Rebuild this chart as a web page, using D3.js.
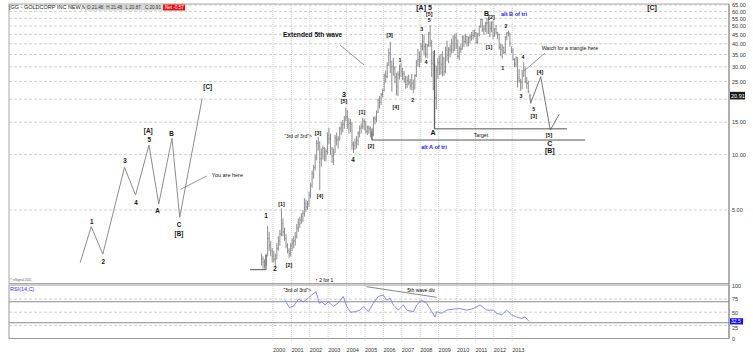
<!DOCTYPE html>
<html>
<head>
<meta charset="utf-8">
<script src="https://cdn.jsdelivr.net/npm/d3@7"></script>
<style>
  body { margin: 0; background: #fff; }
  svg { display: block; font-family: "Liberation Sans", Arial, sans-serif; }
</style>
</head>
<body>
<div id="chart"></div>
<script>
// monthly bars, first one is May 1999
const startYear = 1999, startMonth = 4;

const highs = [
  2.9, 2.8, 2.7, 2.9, 4.1, 3.8, 3.4, 3.1,
  3.0, 2.9, 3.3, 3.6, 3.9, 5.1, 4.5, 4.0, 3.7, 3.3, 3.1, 3.3,
  3.5, 3.6, 3.8, 4.2, 4.5, 4.6, 4.8, 5.0, 5.8, 5.7, 5.6, 6.3,
  7.0, 8.2, 8.8, 10.0, 12.0, 12.5, 11.8, 10.8, 11.2, 11.0, 10.8, 13.2,
  14.0, 13.0, 11.0, 10.8, 12.8, 13.2, 12.6, 14.2, 15.0, 15.4, 16.2, 18.0,
  17.5, 15.8, 15.6, 15.0, 11.8, 12.2, 12.6, 13.4, 14.4, 14.8, 15.8, 15.6,
  15.2, 14.4, 14.4, 14.2, 13.4, 16.0, 16.2, 17.4, 20.2, 20.8, 21.6, 22.8,
  27.5, 28.6, 31.8, 37.8, 41.0, 32.4, 33.6, 30.2, 27.8, 28.4, 30.8, 31.5,
  29.6, 28.4, 26.8, 26.6, 27.2, 25.8, 27.4, 25.6, 27.4, 32.6, 37.6, 36.4,
  40.4, 45.2, 44.6, 40.2, 40.0, 46.4, 50.6, 42.0, 36.6, 31.2, 30.4, 33.6,
  34.6, 35.2, 36.4, 34.0, 38.6, 41.6, 38.4, 39.6, 42.6, 44.6, 45.2, 45.8,
  42.2, 38.8, 39.8, 44.4, 44.6, 45.4, 44.2, 43.8, 44.6, 46.4, 47.6, 47.8,
  46.4, 45.8, 50.2, 54.6, 54.8, 50.4, 52.6, 55.4, 56.0, 53.0, 52.8, 53.6,
  48.8, 50.6, 46.4, 45.4, 40.0, 39.8, 38.6, 44.0, 46.4, 47.2, 46.0, 38.8,
  37.8, 33.4, 34.2, 33.8, 29.2, 25.8, 28.8, 31.8, 29.8, 26.4, 25.2, 21.48
];
const lows = [
  2.5, 2.4, 2.4, 2.5, 2.8, 3.0, 2.8, 2.6,
  2.6, 2.45, 2.7, 3.0, 3.2, 3.6, 3.6, 3.4, 3.1, 2.9, 2.74, 2.8,
  3.0, 3.1, 3.2, 3.5, 3.8, 4.0, 4.2, 4.3, 4.6, 4.9, 5.0, 5.2,
  5.8, 6.6, 7.4, 8.2, 9.3, 10.5, 6.4, 8.6, 9.4, 9.2, 9.2, 10.0,
  11.4, 10.0, 9.0, 8.8, 10.2, 11.2, 10.8, 11.9, 12.8, 13.2, 13.8, 15.2,
  13.8, 13.0, 13.2, 10.6, 10.2, 10.6, 10.8, 11.2, 12.4, 13.0, 13.8, 13.6,
  13.0, 12.8, 13.0, 12.4, 12.0, 12.6, 14.6, 15.0, 16.8, 17.8, 18.6, 20.4,
  22.0, 24.6, 26.0, 30.4, 27.8, 22.0, 26.8, 24.4, 21.0, 20.8, 25.6, 26.4,
  25.4, 24.6, 22.8, 23.0, 23.8, 22.6, 22.4, 21.6, 22.6, 26.4, 30.0, 29.8,
  31.6, 36.8, 34.6, 33.6, 33.5, 38.6, 38.4, 26.4, 22.4, 13.8, 17.6, 25.8,
  27.0, 27.2, 26.6, 26.8, 27.6, 32.2, 31.4, 33.8, 35.4, 35.8, 36.6, 37.4,
  33.2, 32.6, 35.8, 37.2, 38.4, 40.2, 38.6, 38.8, 40.4, 41.6, 42.2, 43.4,
  40.2, 39.8, 43.8, 48.8, 46.4, 44.6, 46.4, 45.2, 45.4, 43.4, 46.2, 42.2,
  43.6, 45.2, 42.4, 37.2, 34.2, 33.2, 35.2, 35.4, 41.8, 43.8, 38.6, 35.6,
  32.6, 29.8, 30.0, 23.2, 24.6, 22.2, 22.6, 26.4, 24.4, 22.8, 21.6, 20.87
];
const closes = [
  2.7, 2.6, 2.5, 2.8, 3.5, 3.2, 3.0, 2.8,
  2.7, 2.7, 3.1, 3.4, 3.7, 4.2, 3.8, 3.5, 3.2, 3.0, 2.9, 3.2,
  3.3, 3.4, 3.6, 4.0, 4.2, 4.4, 4.6, 4.8, 5.4, 5.2, 5.4, 6.0,
  6.8, 7.9, 8.5, 9.6, 11.5, 11.6, 9.5, 10.2, 10.8, 9.8, 10.4, 12.7,
  12.2, 10.8, 9.8, 10.2, 12.3, 12.0, 12.2, 13.8, 14.0, 14.6, 15.8, 16.0,
  14.6, 14.8, 14.6, 11.4, 11.2, 11.6, 11.9, 13.1, 13.9, 14.2, 15.2, 15.0,
  13.4, 14.0, 13.8, 12.8, 12.9, 15.8, 15.6, 17.0, 19.8, 19.2, 21.2, 22.3,
  26.8, 26.6, 30.6, 35.6, 32.0, 30.0, 29.4, 26.4, 23.6, 27.2, 30.2, 28.4,
  27.6, 25.8, 24.0, 25.2, 24.6, 23.6, 24.4, 23.2, 26.8, 32.0, 32.8, 34.0,
  38.8, 41.2, 38.6, 35.2, 39.2, 45.8, 40.6, 31.4, 30.8, 20.4, 28.6, 31.5,
  29.4, 31.0, 33.4, 28.2, 37.0, 34.8, 37.4, 37.0, 40.4, 37.0, 43.2, 39.4,
  34.2, 37.6, 37.4, 43.4, 41.2, 43.8, 40.4, 43.2, 43.6, 44.6, 44.4, 46.0,
  40.6, 45.2, 49.8, 54.2, 47.8, 48.2, 51.6, 52.0, 45.6, 48.6, 52.4, 44.2,
  48.2, 46.0, 45.0, 38.2, 37.2, 38.4, 36.0, 43.4, 45.8, 45.6, 40.4, 36.7,
  32.8, 31.0, 33.6, 26.0, 25.2, 24.7, 27.0, 28.6, 25.0, 24.4, 22.0, 20.91
];

const yearTicks = d3.range(2000, 2014);
const priceTicks = [5, 10, 15, 20, 25, 30, 35, 40, 45, 50, 55, 60, 65];
const rsiTicks = [0, 25, 50, 75, 100];
const rsiLevels = [30, 70];

// RSI(14,C)
const rsiDates = [2000.65, 2000.89, 2001.10, 2001.38, 2001.65, 2001.92, 2002.10, 2002.34, 2002.52, 2002.65,
  2002.83, 2003.01, 2003.28, 2003.55, 2003.82, 2004.01, 2004.22, 2004.46, 2004.73, 2004.91,
  2005.18, 2005.45, 2005.72, 2005.99, 2006.18, 2006.36, 2006.54, 2006.81, 2007.08, 2007.27,
  2007.63, 2007.81, 2008.08, 2008.35, 2008.63, 2008.80, 2008.90, 2009.17, 2009.44, 2009.80,
  2010.16, 2010.53, 2010.89, 2011.25, 2011.61, 2011.97, 2012.16, 2012.43, 2012.70, 2012.97,
  2013.24, 2013.52, 2013.70, 2013.92];
const rsiValues = [73, 59, 61, 75, 70, 77, 83, 89, 67, 70,
  64, 70, 61, 68, 80, 61, 50, 51, 54, 61,
  51, 67, 80, 83, 73, 77, 64, 54, 64, 54,
  51, 64, 73, 67, 51, 41, 51, 48, 54, 56,
  57, 54, 57, 64, 54, 54, 48, 45, 54, 45,
  41, 38, 41, 32.5];

// hypothetical wave sketch on the left and the projected path on the right
const sketchDates = [1989.52, 1990.12, 1990.75, 1991.93, 1992.53, 1993.26, 1993.79, 1994.51, 1994.93, 1996.15];
const sketchPrices = [2.59, 4.06, 2.88, 8.53, 6.03, 11.27, 5.39, 12.26, 4.56, 20.2];
const projDates = [2013.96, 2014.0, 2014.55, 2015.07, 2015.56];
const projPrices = [20.87, 19.0, 26.5, 13.6, 16.6];

// wave labels: text, date, price, style
const labels = [
  ["1", 1990.15, 4.32, "h"], ["2", 1990.78, 2.62, "h"], ["3", 1991.96, 9.23, "h"], ["4", 1992.55, 5.48, "h"],
  ["5", 1993.27, 12.1, "h"], ["[A]", 1993.22, 13.5, "h"], ["A", 1993.73, 4.94, "h"], ["B", 1994.49, 12.9, "h"],
  ["C", 1994.89, 4.15, "h"], ["[B]", 1994.89, 3.73, "h"], ["[C]", 1996.45, 23.4, "h"],
  ["1", 1999.62, 4.64, "m"], ["2", 2000.11, 2.39, "m"], ["[1]", 2000.46, 5.39, "s"], ["[2]", 2000.87, 2.51, "s"],
  ["[3]", 2002.45, 13.1, "s"], ["[4]", 2002.55, 5.96, "s"], ["3", 2003.86, 21.3, "l"], ["[5]", 2003.86, 19.55, "s"],
  ["4", 2004.35, 9.35, "m"], ["[1]", 2004.84, 17.0, "s"], ["[2]", 2005.33, 11.1, "s"], ["[3]", 2006.34, 44.7, "s"],
  ["[4]", 2006.67, 18.1, "s"], ["1", 2006.90, 32.7, "s"], ["2", 2007.59, 19.8, "s"], ["3", 2008.08, 48.0, "s"],
  ["4", 2008.32, 31.6, "s"], ["5", 2008.49, 53.9, "s"], ["[5]", 2008.49, 57.8, "s"], ["[A] 5", 2008.21, 63.1, "l"],
  ["A", 2008.70, 13.1, "l"], ["B", 2011.61, 58.2, "l"], ["[2]", 2011.88, 56.1, "s"], ["[1]", 2011.74, 38.6, "s"],
  ["2", 2012.66, 49.6, "s"], ["1", 2012.48, 29.5, "s"], ["3", 2013.48, 20.8, "s"], ["4", 2013.59, 33.9, "s"],
  ["5", 2014.17, 17.7, "s"], ["[3]", 2014.17, 16.2, "s"], ["[4]", 2014.51, 27.9, "s"], ["[5]", 2015.0, 12.8, "s"],
  ["C", 2015.04, 11.5, "l"], ["[B]", 2015.04, 10.46, "l"], ["[C]", 2020.6, 62.6, "l"],
  ["alt A of tri", 2008.75, 11.0, "blue"], ["alt B of tri", 2013.10, 58.2, "blue"],
  ["Target", 2011.30, 12.8, "note"]
];
const notes = [
  ["You are here", 1996.67, 7.75, "start", 5.5, "normal"],
  ["\"3rd of 3rd\">", 2002.12, 12.6, "end", 5, "normal"],
  ["Extended 5th wave", 2000.54, 44.7, "start", 6.6, "bold"],
  ["Watch for a triangle here", 2014.60, 37.8, "start", 5.2, "normal"]
];
const leaders = [
  [[1996.40, 7.65], [1994.98, 6.48]],
  [[2003.64, 39.4], [2004.95, 30.7]],
  [[2014.78, 35.6], [2013.70, 28.8]]
];
const markLines = [
  [[2008.77, 37], [2008.77, 13.8], [2015.98, 13.8]],
  [[2005.38, 13.9], [2005.38, 12.0], [2016.96, 12.0]],
  [[1999.62, 2.85], [1999.62, 2.37], [1998.75, 2.37]]
];

const width = 753, height = 354;
const pLeft = 9, pRight = 729, pTop = 4, mainBottom = 283.5, rsiTop = 285, rsiBottom = 338.5;

const svg = d3.select("#chart").append("svg")
  .attr("width", width).attr("height", height);

const x = d3.scaleLinear().domain([2000, 2013]).range([273, 512.2]);
const y = d3.scaleLog().domain([5, 65]).range([210, 5]);
const r = d3.scaleLinear().domain([0, 100]).range([rsiBottom, 286]);

// grid
svg.append("g").selectAll("line").data(priceTicks).enter().append("line")
  .attr("x1", pLeft).attr("x2", pRight)
  .attr("y1", d => y(d)).attr("y2", d => y(d))
  .style("stroke", "#cfcfcf").style("stroke-dasharray", "3,2");
svg.append("g").selectAll("line").data(rsiTicks.slice(1, 4)).enter().append("line")
  .attr("x1", pLeft).attr("x2", pRight)
  .attr("y1", d => r(d)).attr("y2", d => r(d))
  .style("stroke", "#cfcfcf").style("stroke-dasharray", "3,2");
svg.append("g").selectAll("line").data(yearTicks).enter().append("line")
  .attr("x1", d => x(d)).attr("x2", d => x(d))
  .attr("y1", pTop).attr("y2", 342)
  .style("stroke", "#d0d0d0").style("stroke-dasharray", "1,1");

// panel frames
svg.append("rect").attr("x", pLeft).attr("y", pTop).attr("width", pRight - pLeft).attr("height", mainBottom - pTop)
  .style("fill", "none").style("stroke", "#aaa");
svg.append("rect").attr("x", pLeft).attr("y", rsiTop).attr("width", pRight - pLeft).attr("height", rsiBottom - rsiTop)
  .style("fill", "none").style("stroke", "#999");
svg.append("g").selectAll("line").data(rsiLevels).enter().append("line")
  .attr("x1", pLeft).attr("x2", pRight)
  .attr("y1", d => r(d)).attr("y2", d => r(d))
  .style("stroke", "#8a8a8a");

// price bars
const bars = highs.map((h, i) => ({
  d: startYear + (startMonth + i + 0.5) / 12,
  h: h, l: lows[i], c: closes[i], o: i ? closes[i - 1] : lows[i]
}));
const barG = svg.append("g").style("stroke", "#8e8e8e").style("stroke-width", 1);
barG.selectAll(".hl").data(bars).enter().append("line")
  .attr("x1", d => x(d.d)).attr("x2", d => x(d.d))
  .attr("y1", d => y(d.h)).attr("y2", d => y(d.l));
barG.selectAll(".cl").data(bars).enter().append("line")
  .attr("x1", d => x(d.d)).attr("x2", d => x(d.d) + 1.2)
  .attr("y1", d => y(d.c)).attr("y2", d => y(d.c));

// sketch and projection
const line = d3.line().x(d => x(d[0])).y(d => y(d[1]));
svg.append("path").datum(sketchDates.map((d, i) => [d, sketchPrices[i]]))
  .attr("d", line).style("fill", "none").style("stroke", "#8c8c8c").style("stroke-width", 1);
svg.append("path").datum(projDates.map((d, i) => [d, projPrices[i]]))
  .attr("d", line).style("fill", "none").style("stroke", "#777").style("stroke-width", 1);
svg.append("g").selectAll("path").data(leaders).enter().append("path")
  .attr("d", line).style("fill", "none").style("stroke", "#777").style("stroke-width", 0.8);
svg.append("g").selectAll("path").data(markLines).enter().append("path")
  .attr("d", line).style("fill", "none").style("stroke", "#555").style("stroke-width", 1);

// labels
const sizes = { h: 6.3, m: 6.3, l: 7, s: 5.3, blue: 5.6, note: 5.2 };
svg.append("g").selectAll("text").data(labels).enter().append("text")
  .attr("x", d => x(d[1])).attr("y", d => y(d[2]))
  .attr("dy", "0.35em")
  .style("text-anchor", "middle")
  .style("font-size", d => sizes[d[3]] + "px")
  .style("font-weight", d => d[3] === "note" ? "normal" : "bold")
  .style("fill", d => d[3] === "blue" ? "#1a1aff" : "#111")
  .text(d => d[0]);
svg.append("g").selectAll("text").data(notes).enter().append("text")
  .attr("x", d => x(d[1])).attr("y", d => y(d[2]))
  .attr("dy", "0.35em")
  .style("text-anchor", d => d[3])
  .style("font-size", d => d[4] + "px")
  .style("font-weight", d => d[5])
  .style("fill", "#111")
  .text(d => d[0]);

// RSI
svg.append("path").datum(rsiDates.map((d, i) => [d, rsiValues[i]]))
  .attr("d", d3.line().x(d => x(d[0])).y(d => r(d[1])))
  .style("fill", "none").style("stroke", "#7b7bf5").style("stroke-width", 0.9);
svg.append("path").datum([[2005.09, 98.7], [2008.89, 78.5]])
  .attr("d", d3.line().x(d => x(d[0])).y(d => r(d[1])))
  .style("stroke", "#666").style("stroke-width", 0.8);
svg.append("text").attr("x", x(2000.56)).attr("y", r(92)).attr("dy", "0.35em")
  .style("font-size", "5px").text("\"3rd of 3rd\">");
svg.append("text").attr("x", x(2007.3)).attr("y", r(92)).attr("dy", "0.35em")
  .style("font-size", "5px").text("5th wave div");
svg.append("text").attr("x", x(2002.3)).attr("y", 281.5)
  .style("font-size", "5px").text("\u2191 2 for 1");
svg.append("text").attr("x", 10).attr("y", 290.5)
  .style("font-size", "5.5px").style("fill", "#2a2aff").text("RSI(14,C)");
svg.append("text").attr("x", 10).attr("y", 281)
  .style("font-size", "3.2px").style("fill", "#555").text("\u00a9 eSignal 2011");

// right axes (the 20.00 label sits under the last-price box)
const lastClose = closes[closes.length - 1];
const lastRsi = rsiValues[rsiValues.length - 1];
const yAxis = d3.axisRight(y).tickValues(priceTicks.filter(d => Math.abs(y(d) - y(lastClose)) > 5))
  .tickFormat(d3.format(".2f")).tickSize(0).tickPadding(3);
const ya = svg.append("g").attr("transform", `translate(${pRight},0)`).call(yAxis);
const rAxis = d3.axisRight(r).tickValues(rsiTicks).tickFormat(d3.format("d")).tickSize(0).tickPadding(3);
const ra = svg.append("g").attr("transform", `translate(${pRight},0)`).call(rAxis);
[ya, ra].forEach(g => {
  g.select(".domain").remove();
  g.selectAll("text").style("font-size", "5.5px").style("fill", "#333").style("font-family", "Liberation Sans, Arial, sans-serif");
});
ra.selectAll("text").attr("dy", d => d === 25 ? "0.75em" : "0.32em");
svg.append("line").attr("x1", pRight).attr("x2", pRight).attr("y1", pTop).attr("y2", rsiBottom)
  .style("stroke", "#888");

svg.append("rect").attr("x", pRight + 1).attr("y", y(lastClose) - 3.8).attr("width", 15).attr("height", 7.6)
  .style("fill", "#1a1a1a");
svg.append("text").attr("x", pRight + 2).attr("y", y(lastClose)).attr("dy", "0.35em")
  .style("font-size", "5.5px").style("fill", "#fff").text(lastClose.toFixed(2));
svg.append("rect").attr("x", pRight + 1).attr("y", r(lastRsi) - 3.2).attr("width", 13).attr("height", 6.2)
  .style("fill", "#1010ff");
svg.append("text").attr("x", pRight + 2).attr("y", r(lastRsi)).attr("dy", "0.35em")
  .style("font-size", "5px").style("fill", "#fff").text(lastRsi);

// year labels
svg.append("g").selectAll("text").data(yearTicks).enter().append("text")
  .attr("x", d => x(d)).attr("y", 352)
  .style("font-size", "5.5px").style("fill", "#333")
  .text(d => d);

// header
svg.append("text").attr("x", 9).attr("y", 9)
  .style("font-size", "5.5px").style("fill", "#222").text("[GG - GOLDCORP INC NEW,M]");
const quote = ["O 21.48", "H 21.48", "L 20.87", "C 20.91"];
svg.append("rect").attr("x", 85).attr("y", 4.5).attr("width", 78).attr("height", 6).style("fill", "#d6d6d6");
svg.append("g").selectAll("text").data(quote).enter().append("text")
  .attr("x", (d, i) => 87 + i * 19.3).attr("y", 9.3)
  .style("font-size", "4.6px").style("fill", "#333").text(d => d);
svg.append("rect").attr("x", 163).attr("y", 4.5).attr("width", 22).attr("height", 6).style("fill", "#ee1111");
svg.append("text").attr("x", 165).attr("y", 9.3)
  .style("font-size", "4.6px").style("fill", "#fff").text("Net -0.57");
</script>
</body>
</html>
